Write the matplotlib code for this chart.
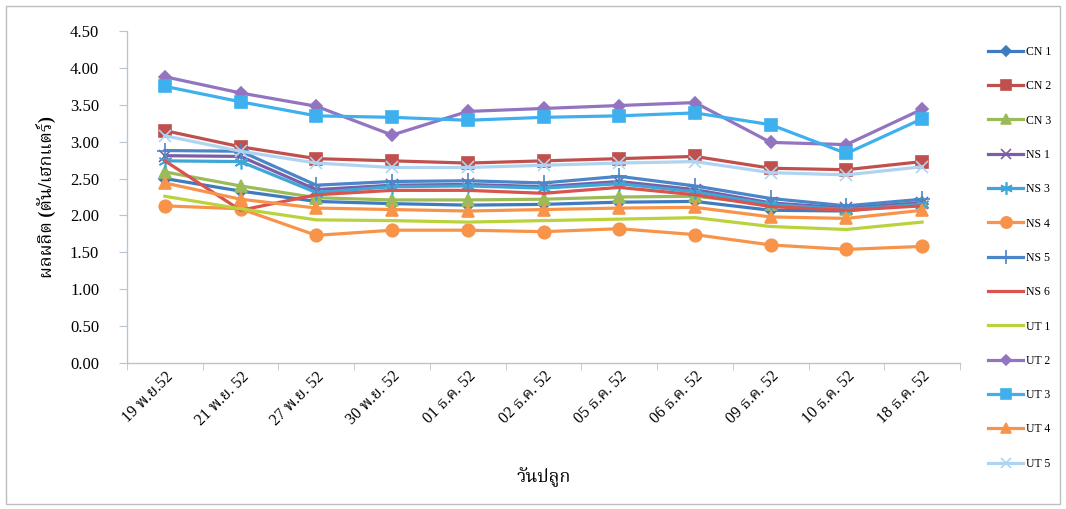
import matplotlib
matplotlib.use("Agg")
import matplotlib.pyplot as plt
from matplotlib import font_manager
from matplotlib.ft2font import FT2Font
from matplotlib.patches import Rectangle

categories = ["19 พ.ย.52", "21 พ.ย. 52", "27 พ.ย. 52", "30 พ.ย. 52", "01 ธ.ค. 52",
              "02 ธ.ค. 52", "05 ธ.ค. 52", "06 ธ.ค. 52", "09 ธ.ค. 52", "10 ธ.ค. 52", "18 ธ.ค. 52"]

series_names = ["CN 1", "CN 2", "CN 3", "NS 1", "NS 3", "NS 4", "NS 5", "NS 6",
                "UT 1", "UT 2", "UT 3", "UT 4", "UT 5"]

cn1 = [2.50, 2.33, 2.19, 2.16, 2.14, 2.15, 2.18, 2.19, 2.07, 2.06, 2.16]
cn2 = [3.15, 2.93, 2.77, 2.74, 2.71, 2.74, 2.77, 2.80, 2.64, 2.62, 2.73]
cn3 = [2.59, 2.40, 2.24, 2.21, 2.21, 2.22, 2.25, 2.26, 2.15, 2.09, 2.18]
ns1 = [2.81, 2.80, 2.35, 2.41, 2.42, 2.39, 2.46, 2.35, 2.17, 2.10, 2.17]
ns3 = [2.74, 2.73, 2.31, 2.39, 2.40, 2.37, 2.43, 2.32, 2.15, 2.08, 2.15]
ns4 = [2.13, 2.09, 1.73, 1.80, 1.80, 1.78, 1.82, 1.74, 1.60, 1.54, 1.58]
ns5 = [2.88, 2.87, 2.41, 2.46, 2.47, 2.44, 2.53, 2.40, 2.23, 2.13, 2.22]
ns6 = [2.74, 2.07, 2.28, 2.34, 2.34, 2.30, 2.38, 2.28, 2.12, 2.07, 2.13]
ut1 = [2.26, 2.09, 1.94, 1.93, 1.91, 1.93, 1.95, 1.97, 1.85, 1.81, 1.91]
ut2 = [3.88, 3.66, 3.48, 3.09, 3.41, 3.45, 3.49, 3.53, 2.99, 2.96, 3.44]
ut3 = [3.75, 3.54, 3.35, 3.33, 3.29, 3.33, 3.35, 3.39, 3.23, 2.84, 3.31]
ut4 = [2.44, 2.22, 2.10, 2.08, 2.06, 2.08, 2.10, 2.11, 1.98, 1.96, 2.07]
ut5 = [3.08, 2.87, 2.71, 2.65, 2.65, 2.68, 2.71, 2.73, 2.58, 2.55, 2.66]

y_ticks = [0.0, 0.5, 1.0, 1.5, 2.0, 2.5, 3.0, 3.5, 4.0, 4.5]
y_title = "ผลผลิต (ตัน/เฮกแตร์)"
x_title = "วันปลูก"

values = [cn1, cn2, cn3, ns1, ns3, ns4, ns5, ns6, ut1, ut2, ut3, ut4, ut5]
colors = ["#3f7bbf", "#c0504d", "#9bbb59", "#7b5ea7", "#3ea7d6", "#f7944a", "#4a86c8",
          "#d9534f", "#b9d33c", "#9374c0", "#3fb0ee", "#f7944a", "#aed4f2"]
markers = ["D", "s", "^", "x", (6, 2, 0), "o", "+", None, None, "D", "s", "^", "x"]
msizes = [6, 8, 8, 8, 10, 9, 11, 0, 0, 6, 8, 8, 8]


def find_thai_font():
    preferred = ["Noto Serif Thai", "Noto Sans Thai", "Loma", "Garuda", "Norasi",
                 "Sarabun", "TH Sarabun New", "Tlwg Typo", "Kinnari"]
    found = {}
    for f in font_manager.fontManager.ttflist:
        try:
            ft = FT2Font(f.fname)
            cmap = ft.get_charmap()
            if 0x0E1C in cmap and 0x0E25 in cmap:
                found.setdefault(f.name, f.fname)
        except Exception:
            continue
    for p in preferred:
        if p in found:
            return p
    if found:
        return sorted(found)[0]
    return None


thai = find_thai_font()
families = ["Liberation Serif"] + ([thai] if thai else []) + ["DejaVu Sans"]
plt.rcParams["font.family"] = families

fig = plt.figure(figsize=(10.66, 5.09), dpi=100)
fig.patches.append(Rectangle((0.006, 0.01), 0.988, 0.978, transform=fig.transFigure,
                             fill=False, edgecolor="#bdbdbd", linewidth=1.0))

ax = fig.add_axes([127 / 1066, 1 - 363 / 509, (960 - 127) / 1066, (363 - 31) / 509])

x = list(range(len(categories)))
handles = []
for name, vals, c, m, ms in zip(series_names, values, colors, markers, msizes):
    kw = dict(color=c, linewidth=2.3, label=name)
    if m is not None:
        kw.update(marker=m, markersize=ms, markerfacecolor=c, markeredgecolor=c,
                  markeredgewidth=1.2)
    (h,) = ax.plot(x, vals, **kw)
    handles.append(h)

ax.set_xlim(-0.5, len(categories) - 0.5)
ax.set_ylim(0, 4.5)
ax.set_yticks(y_ticks)
ax.set_yticklabels([f"{v:.2f}" for v in y_ticks], fontsize=12)
ax.set_xticks(x)
ax.set_xticklabels(categories, rotation=45, ha="right", rotation_mode="anchor", fontsize=11.5)
ax.set_xticks([i + 0.5 for i in range(-1, len(categories))], minor=True)
ax.tick_params(axis="x", which="major", length=0, pad=4)
ax.tick_params(axis="x", which="minor", length=5, color="#b8c4d0", direction="out")
ax.tick_params(axis="y", length=6, color="#b8c4d0", direction="out", pad=14)
for s in ["top", "right"]:
    ax.spines[s].set_visible(False)
for s in ["left", "bottom"]:
    ax.spines[s].set_color("#b8c4d0")
    ax.spines[s].set_linewidth(1.0)

ax.set_ylabel(y_title, fontsize=13, fontweight="bold", labelpad=10)
ax.set_xlabel(x_title, fontsize=13, fontweight="bold", labelpad=28)

fig.legend(handles=handles, loc="upper left", bbox_to_anchor=(988 / 1066, 1 - 46 / 509),
           frameon=False, fontsize=8.5, labelspacing=1.89, handlelength=3.0,
           handletextpad=0.2, borderaxespad=0, borderpad=0, markerscale=0.9)

fig.savefig("out.png", dpi=100)
